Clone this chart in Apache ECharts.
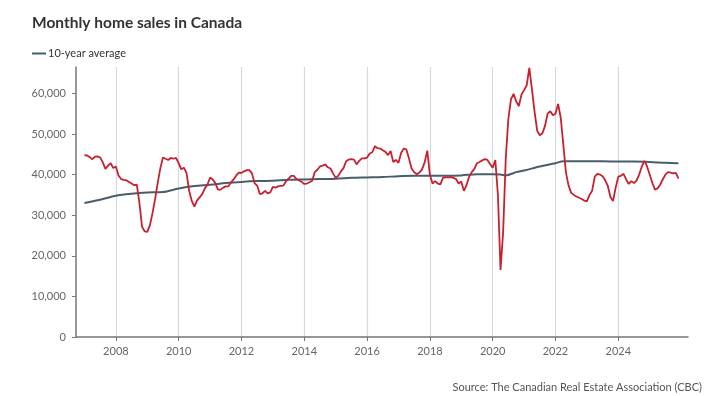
<!DOCTYPE html>
<html>
<head>
<meta charset="utf-8">
<script src="https://cdn.jsdelivr.net/npm/echarts@6/dist/echarts.min.js"></script>
<style>
  html, body { margin: 0; padding: 0; background: #fff; }
  #chart { width: 718px; height: 396px; }
</style>
</head>
<body>
<div id="chart"></div>
<script>
// monthly sales, Jan 2007 .. Dec 2025 (thousands)
var startYear = 2007;
var sales = [
  44.8, 44.7, 44.3, 43.8, 44.4, 44.5, 44.2, 43.0, 41.4, 42.2, 42.8, 41.6,
  42.0, 39.8, 38.9, 38.7, 38.6, 38.2, 37.8, 37.4, 37.5, 33.0, 27.2, 26.0,
  25.9, 27.5, 30.5, 34.0, 38.0, 41.6, 44.2, 43.9, 43.6, 44.1, 43.9, 44.1,
  42.8, 41.3, 41.7, 40.4, 36.0, 33.5, 32.1, 33.6, 34.4, 35.2, 36.6, 37.5,
  39.3, 38.8, 37.9, 36.3, 36.3, 36.8, 37.1, 37.1, 38.1, 38.8, 39.8, 40.5,
  40.4, 40.8, 41.1, 41.1, 40.3, 37.9, 37.3, 35.2, 35.4, 36.0, 35.4, 35.6,
  37.0, 36.8, 37.1, 37.2, 37.3, 38.3, 39.0, 39.7, 39.7, 38.9, 38.6, 38.2,
  37.7, 37.8, 38.1, 38.5, 40.6, 41.2, 42.0, 42.2, 42.5, 41.8, 41.5, 40.3,
  39.2, 39.7, 40.8, 41.6, 43.3, 43.7, 43.8, 43.7, 42.5, 43.4, 44.0, 44.0,
  44.2, 45.2, 45.5, 47.0, 46.5, 46.4, 46.0, 45.6, 44.8, 45.8, 43.1, 43.6,
  42.9, 45.3, 46.4, 46.2, 44.0, 41.5, 40.6, 40.1, 40.5, 41.3, 43.0, 45.9,
  40.0, 37.8, 38.4, 37.8, 37.6, 39.2, 39.3, 39.3, 39.4, 39.2, 38.9, 37.8,
  38.3, 36.0, 37.4, 39.5, 40.6, 41.4, 42.8, 43.1, 43.5, 43.8, 43.6, 42.6,
  41.7, 43.6, 35.0, 16.5, 26.0, 44.0, 53.8, 58.6, 59.9, 58.0, 56.9, 59.7,
  60.8, 62.0, 66.3, 61.0, 55.5, 50.8, 49.7, 50.2, 52.0, 55.0, 55.6, 54.6,
  55.0, 57.4, 54.0, 47.3, 40.5, 37.3, 35.5, 35.0, 34.6, 34.3, 34.0, 33.6,
  33.4, 35.0, 36.0, 39.5, 40.2, 40.0, 39.6, 38.6, 37.2, 34.5, 33.5, 36.8,
  39.5, 39.7, 40.2, 38.8, 37.7, 38.4, 37.9, 38.6, 40.0, 42.0, 43.4, 42.0,
  40.0, 38.0, 36.3, 36.6, 37.5, 38.8, 40.0, 40.6, 40.5, 40.3, 40.4, 39.0
];

// 10-year average, read at a few points along the line
var avgDates = ['2007-01', '2007-07', '2008-01', '2008-07', '2009-01', '2009-07',
  '2010-01', '2010-07', '2011-01', '2011-07', '2012-01', '2012-07', '2013-01', '2013-07',
  '2014-01', '2014-07', '2015-01', '2015-07', '2016-01', '2016-07', '2017-01', '2017-07',
  '2018-01', '2018-07', '2019-01', '2019-07', '2020-01', '2020-04', '2020-06', '2020-10',
  '2021-01', '2021-07', '2022-01', '2022-04', '2022-07', '2023-01', '2023-07', '2024-01',
  '2024-07', '2025-01', '2025-07', '2025-12'];
var avgValues = [33.0, 33.8, 34.8, 35.3, 35.6, 35.7,
  36.6, 37.2, 37.5, 37.9, 38.2, 38.4, 38.5, 38.7,
  38.8, 38.9, 39.0, 39.2, 39.3, 39.4, 39.6, 39.7,
  39.7, 39.7, 39.8, 40.1, 40.1, 40.0, 39.8, 40.6,
  41.0, 42.0, 42.8, 43.3, 43.3, 43.3, 43.3, 43.2,
  43.2, 43.1, 42.9, 42.8];

var yTicks = [0, 10000, 20000, 30000, 40000, 50000, 60000];
var xYears = [2008, 2010, 2012, 2014, 2016, 2018, 2020, 2022, 2024];

// x position in years (month index / 12)
var salesData = sales.map(function (v, i) {
    return [startYear + i / 12, v * 1000];
});
var avgData = avgDates.map(function (d, i) {
    var p = d.split('-');
    return [+p[0] + (+p[1] - 1) / 12, avgValues[i] * 1000];
});

var font = 'Lato';
var myChart = echarts.init(document.getElementById('chart'));
var option = {
    animation: false,
    textStyle: { fontFamily: font },
    title: [{
        text: 'Monthly home sales in Canada',
        left: 27,
        top: 10,
        textStyle: { fontFamily: font, fontSize: 15.5, fontWeight: 'bold', color: '#333' }
    }, {
        text: 'Source: The Canadian Real Estate Association (CBC)',
        right: 11,
        top: 377,
        textStyle: { fontFamily: font, fontSize: 11, fontWeight: 'normal', color: '#555' }
    }],
    legend: {
        left: 27,
        top: 43,
        data: ['10-year average'],
        icon: 'rect',
        itemWidth: 14,
        itemHeight: 2,
        itemGap: 10,
        textStyle: { fontFamily: font, fontSize: 11, color: '#333', padding: [0, 0, 0, -3] }
    },
    grid: {
        left: 76,
        right: 30,
        top: 67,
        bottom: 59,
        containLabel: false
    },
    xAxis: {
        type: 'value',
        min: 2006.73,
        max: 2026.22,
        axisLine: { lineStyle: { color: '#777', width: 1.5 } },
        axisTick: { show: true, length: 4, lineStyle: { color: '#777' }, customValues: xYears },
        axisLabel: {
            customValues: xYears,
            color: '#666',
            fontSize: 11,
            margin: 9,
            formatter: function (v) { return String(v); }
        },
        splitLine: { show: true, lineStyle: { color: '#d3dae0', width: 1.2 } }
    },
    yAxis: {
        type: 'value',
        min: 0,
        max: 66500,
        axisLine: { show: true, lineStyle: { color: '#777', width: 1.5 } },
        axisTick: { show: true, length: 4, lineStyle: { color: '#777' }, customValues: yTicks },
        axisLabel: { customValues: yTicks, color: '#666', fontSize: 11, margin: 10 },
        splitLine: { show: false }
    },
    series: [{
        name: 'Monthly sales',
        type: 'line',
        data: salesData,
        showSymbol: false,
        lineStyle: { color: '#c8202f', width: 1.8 },
        itemStyle: { color: '#c8202f' },
        z: 3
    }, {
        name: '10-year average',
        type: 'line',
        data: avgData,
        showSymbol: false,
        smooth: 0.3,
        lineStyle: { color: '#475f6d', width: 2 },
        itemStyle: { color: '#475f6d' },
        z: 2
    }]
};
myChart.setOption(option);
</script>
</body>
</html>
